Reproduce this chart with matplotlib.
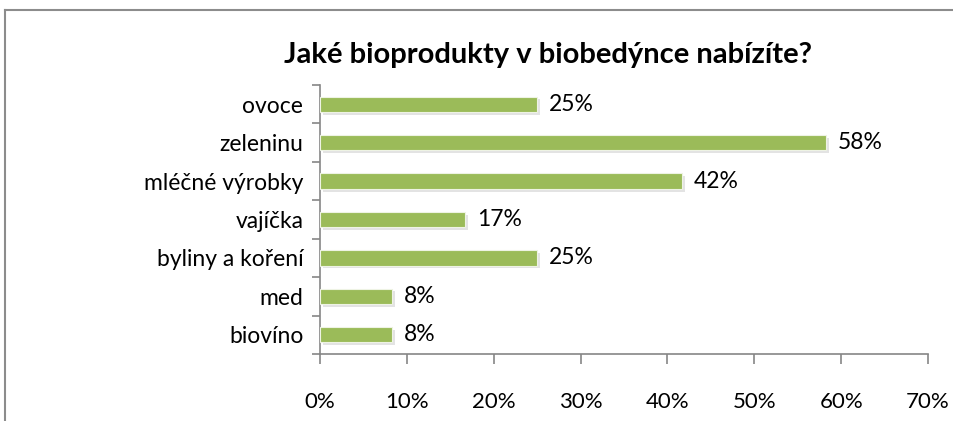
import matplotlib
matplotlib.use('Agg')
from matplotlib import pyplot as plt
from matplotlib import patheffects as pe
import numpy as np

# Chart data #
categories = ['ovoce', 'zeleninu', 'mléčné výrobky', 'vajíčka',
              'byliny a koření', 'med', 'biovíno']
values = [25.0, 58.3, 41.7, 16.7, 25.0, 8.3, 8.3]
x_ticks = [0, 10, 20, 30, 40, 50, 60, 70]

plt.rcParams['font.family'] = ['Lato', 'DejaVu Sans']

BAR_COLOR = '#9BBB59'
AXIS_COLOR = '#868686'

fig = plt.figure(figsize=(9.54, 4.21), dpi=100)
W, H = 954, 421
ax = fig.add_axes([320 / W, 1 - 354 / H, (928 - 320) / W, (354 - 85) / H])

# Outer chart border #
fig.add_artist(plt.Line2D([5 / W, 5 / W], [0, 1 - 10 / H], transform=fig.transFigure,
                          color='#8c8c8c', linewidth=1.5))
fig.add_artist(plt.Line2D([5 / W, 1], [1 - 10 / H, 1 - 10 / H], transform=fig.transFigure,
                          color='#8c8c8c', linewidth=1.5))

y = np.arange(len(categories))
bars = ax.barh(y, values, height=0.4, color=BAR_COLOR, edgecolor='#eef3e4',
               linewidth=0.8, zorder=3)
for b in bars:
    b.set_path_effects([pe.SimplePatchShadow(offset=(2, -2), shadow_rgbFace='#c8c8c8',
                                             alpha=0.5), pe.Normal()])

for yi, v in zip(y, values):
    ax.annotate(f'{v:.0f}%', (v, yi), xytext=(8.5, 0), textcoords='offset points',
                va='center', ha='left', fontsize=16.5, color='black')

ax.set_ylim(len(categories) - 0.5, -0.5)
ax.set_xlim(0, 70)
ax.set_xticks(x_ticks)
ax.set_xticklabels([f'{t}%' for t in x_ticks], fontsize=16)
ax.set_yticks(np.arange(len(categories) + 1) - 0.5, minor=False)
ax.set_yticklabels([])
ax.set_yticks(y, minor=True)
ax.set_yticklabels(categories, minor=True, fontsize=16.5)
ax.tick_params(axis='y', which='major', length=6, color=AXIS_COLOR, width=1.2)
ax.tick_params(axis='y', which='minor', length=0, pad=12)
ax.tick_params(axis='x', length=7, color=AXIS_COLOR, width=1.2, pad=20)

for s in ['top', 'right']:
    ax.spines[s].set_visible(False)
for s in ['left', 'bottom']:
    ax.spines[s].set_color(AXIS_COLOR)
    ax.spines[s].set_linewidth(1.2)

fig.text(548 / W, 1 - 55 / H, 'Jaké bioprodukty v biobedýnce nabízíte?',
         ha='center', va='center', fontsize=21, fontweight='bold')

fig.savefig('out.png', dpi=100)
